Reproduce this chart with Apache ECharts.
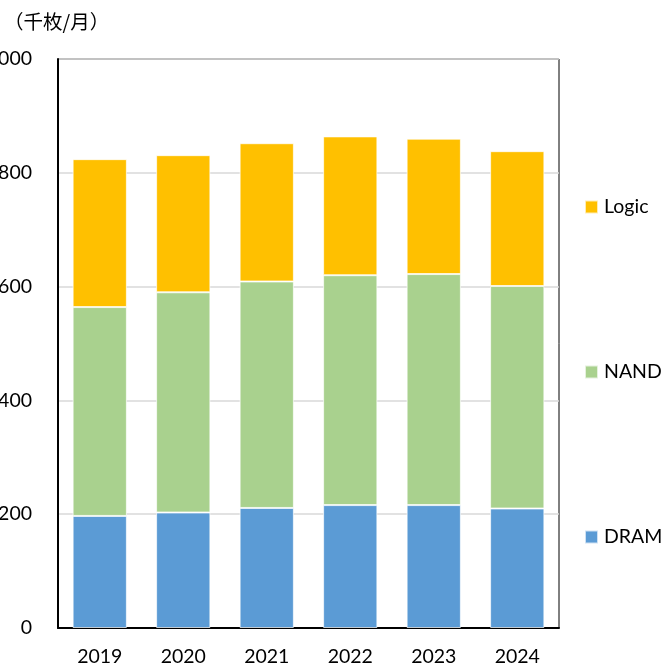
<!DOCTYPE html>
<html>
<head>
<meta charset="utf-8">
<script src="https://cdn.jsdelivr.net/npm/echarts@6/dist/echarts.min.js"></script>
<style>
  html, body { margin: 0; padding: 0; background: #fff; }
  #chart { width: 670px; height: 664px; }
</style>
</head>
<body>
<div id="chart"></div>
<script>
// wafer capacity per month (thousand wafers)
const years = ['2019', '2020', '2021', '2022', '2023', '2024']
const dram = [197, 203, 211, 216, 216, 210]
const nand = [367, 387, 398, 404, 406, 391]
const logic = [260, 241, 243, 244, 238, 237]
const yTicks = [0, 200, 400, 600, 800, 1000]

const FONT = 'Lato, "Noto Sans", sans-serif'

const chart = echarts.init(document.getElementById('chart'))

const barStyle = (color) => ({
  color,
  borderColor: 'rgba(255,255,255,0.7)',
  borderWidth: 1,
})

function legendAt(name, top) {
  return {
    data: [name],
    left: 584,
    top,
    padding: 0,
    itemWidth: 13,
    itemHeight: 13,
    icon: 'rect',
    selectedMode: false,
    textStyle: { fontFamily: FONT, fontSize: 19.5, color: '#000', lineHeight: 20, padding: [0, 0, 0, 1] },
  }
}

chart.setOption({
  animation: false,
  backgroundColor: '#fff',
  title: {
    text: '（千枚/月）',
    left: 4,
    top: 12,
    padding: 0,
    textStyle: { fontFamily: '"Noto Sans CJK JP", sans-serif', fontSize: 19.5, fontWeight: 'normal', color: '#000' },
  },
  legend: [legendAt('Logic', 197), legendAt('NAND', 362), legendAt('DRAM', 527)],
  grid: {
    left: 58, right: 111, top: 59, bottom: 36,
    containLabel: false,
    outerBoundsMode: 'none',
    show: true, borderColor: '#000', borderWidth: 1,
  },
  xAxis: {
    type: 'category',
    data: years,
    axisLine: { lineStyle: { color: '#000', width: 2 } },
    axisTick: { show: false },
    axisLabel: { fontFamily: FONT, fontSize: 19.5, color: '#000', margin: 19 },
  },
  yAxis: {
    type: 'value',
    min: yTicks[0],
    max: yTicks[yTicks.length - 1],
    interval: 200,
    axisLine: { show: true, lineStyle: { color: '#000', width: 2 } },
    axisTick: { show: false },
    axisLabel: { fontFamily: FONT, fontSize: 19.5, color: '#000', margin: 26 },
    splitLine: { lineStyle: { color: '#d9d9d9', width: 1.5 } },
  },
  series: [
    { name: 'DRAM', type: 'bar', stack: 'total', data: dram, barWidth: '65%', itemStyle: barStyle('#5b9bd5') },
    { name: 'NAND', type: 'bar', stack: 'total', data: nand, barWidth: '65%', itemStyle: barStyle('#a9d18e') },
    { name: 'Logic', type: 'bar', stack: 'total', data: logic, barWidth: '65%', itemStyle: barStyle('#ffc000') },
  ],
})
</script>
</body>
</html>
